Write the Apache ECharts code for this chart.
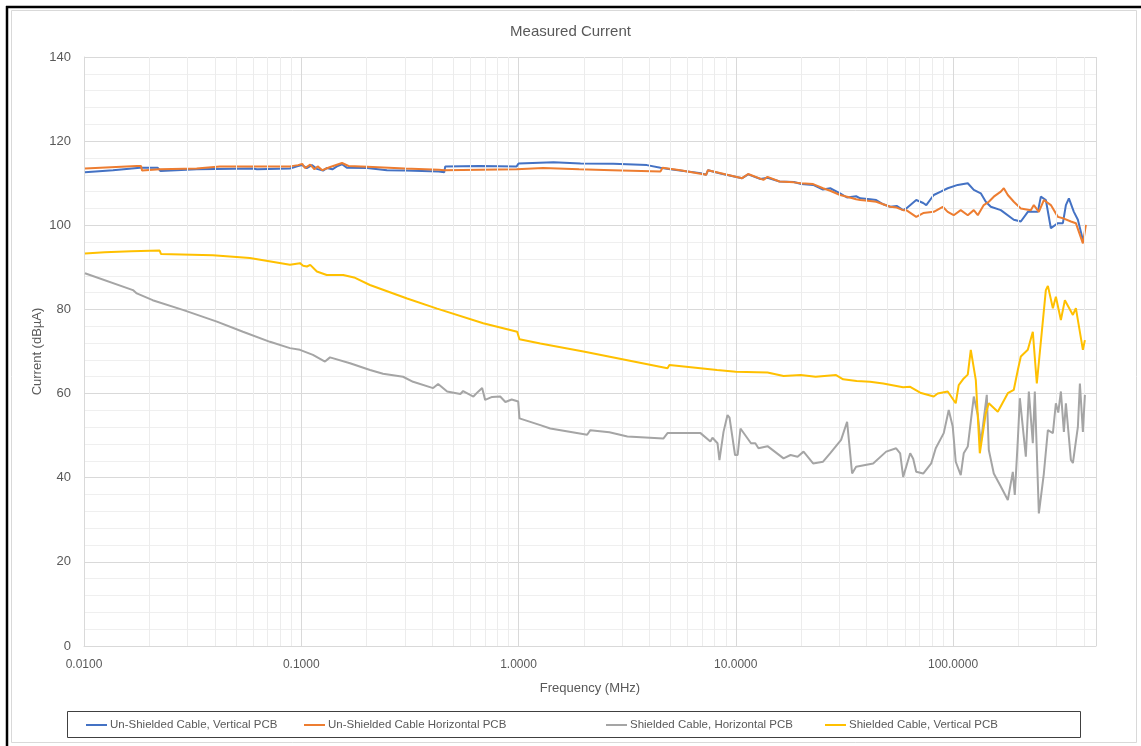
<!DOCTYPE html>
<html>
<head>
<meta charset="utf-8">
<script src="https://cdn.jsdelivr.net/npm/echarts@6/dist/echarts.min.js"></script>
<style>
html,body{margin:0;padding:0;background:#fff;}
#chart{width:1141px;height:746px;}
</style>
</head>
<body>
<div id="chart"></div>
<script>
// ---------- DATA ----------
const seriesNames = [
  'Un-Shielded Cable, Vertical PCB',
  'Un-Shielded Cable Horizontal PCB',
  'Shielded Cable, Horizontal PCB',
  'Shielded Cable, Vertical PCB'
];
const xTickValues = [0.01, 0.1, 1, 10, 100];
const yTickValues = [0, 20, 40, 60, 80, 100, 120, 140];

const freqUnVert = [0.0101,0.0136,0.0181,0.0218,0.0225,0.0331,0.0599,0.0625,0.0887,0.0966,0.101,0.106,0.112,0.118,0.126,0.131,0.139,0.146,0.154,0.162,0.201,0.248,0.30,0.43,0.455,0.46,0.66,0.98,1.0,1.45,1.93,2.73,3.9,4.5,5.0,6.0,6.9,7.3,7.45,8.5,10.7,11.4,13.0,14.0,15.9,18.5,20.0,22.7,25.2,27.2,30.2,32.5,35.8,37.4,41.5,44.3,47.7,51.4,55.0,58.9,60.9,67.7,72.9,75.3,81.5,87.8,94.5,105.1,116.9,124.6,134.2,141.5,149.2,165.9,190.4,205.1,220.9,245.6,253.6,267.4,282.0,303.8,320.3,330.7,341.4,359.9,375.5,396.0,400.3];
const valUnVert  = [112.6,113.1,113.7,113.7,112.9,113.3,113.5,113.3,113.5,114.1,114.3,113.6,114.3,113.4,113.0,113.6,113.3,114.0,114.5,113.7,113.6,113.1,113.0,112.8,112.6,114.0,114.1,114.0,114.7,115.0,114.7,114.6,114.3,113.7,113.3,112.8,112.4,112.0,113.1,112.3,111.2,112.1,111.0,111.3,110.4,110.3,109.8,109.6,108.5,108.8,107.6,106.6,106.9,106.4,106.2,106.0,105.0,104.4,104.6,103.6,104.0,106.0,105.3,104.8,107.2,108.0,108.8,109.6,110.0,108.4,107.6,105.6,104.4,103.6,101.3,100.9,103.2,103.2,106.8,106.0,99.3,100.5,100.5,104.8,106.4,103.2,101.3,96.5,97.3];

const freqUnHoriz = [0.0101,0.0175,0.0183,0.0185,0.0223,0.033,0.0422,0.0695,0.0887,0.0966,0.101,0.104,0.110,0.115,0.119,0.125,0.135,0.154,0.165,0.201,0.30,0.43,0.455,0.46,0.98,1.0,1.3,1.9,2.7,4.5,4.6,5.56,7.3,7.45,10.7,11.4,13.4,14.0,15.9,18.5,20.0,22.7,25.2,27.2,30.2,32.5,35.8,37.4,41.5,44.3,47.7,51.4,55.0,58.9,60.9,67.7,72.9,81.5,89.7,94.5,100.7,108.5,116.9,124.6,130.0,138.5,146.1,154.0,165.9,171.3,178.7,190.4,205.1,228.0,235.4,248.3,261.8,282.0,303.8,323.7,348.7,367.6,396.0,408.8];
const valUnHoriz  = [113.5,114.1,114.1,113.0,113.3,113.5,114.0,114.0,114.0,114.3,114.6,113.6,114.4,113.3,114.0,113.1,113.8,114.8,114.1,113.9,113.5,113.2,113.1,113.3,113.3,113.7,113.6,113.3,113.1,112.8,113.7,113.1,112.0,113.1,111.2,112.2,110.8,111.5,110.4,110.2,110.0,109.8,108.8,108.2,107.2,106.8,106.2,106.0,105.8,105.6,105.0,104.4,104.2,103.6,103.6,102.0,102.9,103.2,104.4,103.2,102.4,103.6,102.4,103.6,102.4,104.8,105.6,106.8,108.0,108.8,107.2,105.6,104.0,103.6,104.8,103.2,106.0,104.8,102.0,101.6,100.9,100.5,95.7,100.1];

const freqShHoriz = [0.0101,0.0168,0.0175,0.0207,0.0285,0.0409,0.0539,0.0718,0.0887,0.0986,0.1132,0.1286,0.1356,0.1677,0.2073,0.2379,0.2942,0.3271,0.4045,0.4266,0.4693,0.54,0.556,0.62,0.65,0.68,0.702,0.756,0.8235,0.87,0.93,0.997,1.01,1.26,1.40,2.07,2.14,2.62,3.17,4.64,4.85,6.88,7.64,7.81,8.24,8.41,8.78,9.16,9.36,9.92,10.2,10.51,11.75,12.3,12.72,14.0,16.59,17.87,19.25,20.51,22.69,25.22,27.17,30.53,32.54,34.31,35.80,42.88,49.23,54.72,57.10,58.94,63.50,65.55,67.68,72.91,79.35,83.25,90.61,95.54,99.7,102.9,108.5,112.0,116.9,124.6,130.0,134.2,143.0,146.1,154.0,165.9,178.7,188.4,192.4,198.7,203.0,207.0,216.3,223.3,232.9,237.9,248.3,261.8,273.2,288.1,297.4,305.0,313.6,323.7,330.7,348.7,356.2,375.5,383.6,396.0,404.5];
const valShHoriz  = [88.6,84.6,83.8,82.2,79.9,77.1,74.7,72.3,70.8,70.4,69.2,67.6,68.6,67.2,65.6,64.7,64.0,62.8,61.3,62.3,60.5,59.9,60.6,59.3,60.4,61.3,58.5,59.2,59.3,58.0,58.6,58.1,54.1,52.5,51.7,50.2,51.3,50.8,49.8,49.3,50.6,50.6,48.6,49.5,48.2,44.2,50.9,54.9,54.3,45.4,45.4,51.7,48.2,48.2,47.0,47.5,44.6,45.4,45.0,46.2,43.4,43.8,45.8,49.0,53.3,41.0,42.6,43.4,46.2,47.0,45.8,40.2,45.8,44.5,41.4,41.0,43.4,47.0,50.6,56.1,52.1,43.8,40.6,45.8,47.4,59.3,54.9,48.2,59.7,46.6,41.0,37.9,34.7,41.4,35.9,49.0,58.9,58.5,45.0,60.5,48.2,60.5,31.5,41.0,51.3,50.6,57.7,55.5,60.5,50.9,57.7,44.2,43.5,52.1,62.4,50.9,59.7];

const freqShVert = [0.0101,0.01246,0.0165,0.0223,0.0226,0.0392,0.058,0.0887,0.0986,0.102,0.1062,0.110,0.118,0.131,0.156,0.175,0.207,0.307,0.422,0.688,0.986,1.01,1.26,1.99,4.85,4.95,8.2,10.0,14.0,16.6,19.9,23.3,28.95,31.2,36.0,41.5,47.7,58.9,63.5,70.6,81.5,85.0,94.5,102.9,106.2,112.0,116.9,120.7,127.3,132.8,141.5,146.1,160.7,178.7,190.4,198.7,205.1,220.9,232.9,235.4,243.0,267.4,273.2,288.1,297.4,313.6,327.2,356.2,367.6,396.0,404.5];
const valShVert  = [93.3,93.6,93.8,94.0,93.2,92.9,92.2,90.6,91.0,90.4,90.2,90.6,89.0,88.2,88.2,87.6,85.8,82.6,80.2,76.7,74.7,72.9,71.9,70.0,66.0,66.8,65.6,65.2,65.0,64.2,64.4,64.0,64.4,63.4,63.0,62.8,62.4,61.5,61.6,60.2,59.3,60.0,60.5,57.7,62.0,63.6,64.5,70.4,63.2,45.8,55.3,57.7,55.7,60.1,60.9,65.6,68.8,70.4,74.7,75.0,62.4,84.6,85.6,80.3,83.0,77.5,82.2,78.7,80.3,70.4,72.7];

const minorGridFreqs = [0.02,0.03,0.04,0.05,0.06,0.07,0.08,0.09,0.2,0.3,0.4,0.5,0.6,0.7,0.8,0.9,2,3,4,5,6,7,8,9,20,30,40,50,60,70,80,90,200,300,400];
// ---------- END DATA ----------

const colors = ['#4472C4', '#ED7D31', '#A5A5A5', '#FFC000'];
const freqs = [freqUnVert, freqUnHoriz, freqShHoriz, freqShVert];
const vals = [valUnVert, valUnHoriz, valShHoriz, valShVert];
const FONT = 'Liberation Sans';
const TXT = '#595959';

function zip(a, b) { return a.map((f, i) => [f, b[i]]); }

const series = seriesNames.map((name, i) => ({
  name: name,
  type: 'line',
  data: zip(freqs[i], vals[i]),
  symbol: 'none',
  showSymbol: false,
  smooth: false,
  lineStyle: { color: colors[i], width: 2 },
  itemStyle: { color: colors[i] },
  z: 3 + i,
  animation: false
}));
// minor vertical gridlines of the log axis
series.push({
  name: '_grid',
  type: 'line',
  data: [],
  silent: true,
  z: 1,
  animation: false,
  markLine: {
    silent: true,
    symbol: ['none', 'none'],
    label: { show: false },
    lineStyle: { color: '#ececec', width: 1, type: 'solid' },
    animation: false,
    data: minorGridFreqs.map(f => ({ xAxis: f }))
  }
});

const legendLefts = [86, 304, 606, 825];
const legends = seriesNames.map((name, i) => ({
  data: [name],
  left: legendLefts[i],
  top: 719,
  icon: 'rect',
  itemWidth: 21,
  itemHeight: 2,
  itemGap: 0,
  padding: 0,
  selectedMode: false,
  textStyle: { fontFamily: FONT, fontSize: 11.5, color: TXT, padding: [0, 0, 0, -2] }
}));

const chart = echarts.init(document.getElementById('chart'), null, { renderer: 'canvas' });
chart.setOption({
  backgroundColor: '#ffffff',
  animation: false,
  title: {
    text: 'Measured Current',
    left: 'center',
    top: 19,
    textStyle: { fontFamily: FONT, fontSize: 15, fontWeight: 'normal', color: TXT }
  },
  legend: legends,
  grid: { left: 84, right: 45, top: 57, bottom: 100, containLabel: false },
  xAxis: {
    type: 'log',
    logBase: 10,
    min: 0.01,
    max: 455,
    name: 'Frequency (MHz)',
    nameLocation: 'middle',
    nameGap: 36,
    nameTextStyle: { fontFamily: FONT, fontSize: 13, color: TXT },
    axisLine: { show: true, lineStyle: { color: '#d9d9d9', width: 1 } },
    axisTick: { show: false },
    axisLabel: {
      fontFamily: FONT, fontSize: 12, color: TXT, margin: 13,
      showMaxLabel: false,
      formatter: function (v) {
        for (const t of xTickValues) { if (Math.abs(v - t) / t < 1e-6) return t.toFixed(4); }
        return '';
      }
    },
    splitLine: { show: true, lineStyle: { color: '#d9d9d9', width: 1 } },
    minorSplitLine: { show: false }
  },
  yAxis: {
    type: 'value',
    min: yTickValues[0],
    max: yTickValues[yTickValues.length - 1],
    interval: 20,
    name: 'Current (dB\u00b5A)',
    nameLocation: 'middle',
    nameGap: 40,
    nameMoveOverlap: false,
    nameTextStyle: { fontFamily: FONT, fontSize: 13, color: TXT },
    axisLine: { show: true, lineStyle: { color: '#d9d9d9', width: 1 } },
    axisTick: { show: false },
    axisLabel: { fontFamily: FONT, fontSize: 13, color: TXT, margin: 13 },
    splitLine: { show: true, lineStyle: { color: '#d9d9d9', width: 1 } },
    minorTick: { show: false, splitNumber: 5 },
    minorSplitLine: { show: true, lineStyle: { color: '#efefef', width: 1 } }
  },
  graphic: [
    { type: 'rect', shape: { x: 11.5, y: 10.5, width: 1125, height: 732 }, style: { fill: 'none', stroke: '#d9d9d9', lineWidth: 1 }, silent: true, z: -10 },
    { type: 'line', shape: { x1: 6, y1: 7, x2: 1141, y2: 7 }, style: { stroke: '#000', lineWidth: 2.5 }, silent: true },
    { type: 'line', shape: { x1: 7, y1: 6, x2: 7, y2: 746 }, style: { stroke: '#000', lineWidth: 2.5 }, silent: true },
    { type: 'rect', shape: { x: 67.5, y: 711.5, width: 1013, height: 26 }, style: { fill: 'none', stroke: '#404040', lineWidth: 1 }, silent: true }
  ],
  series: series
});
</script>
</body>
</html>
